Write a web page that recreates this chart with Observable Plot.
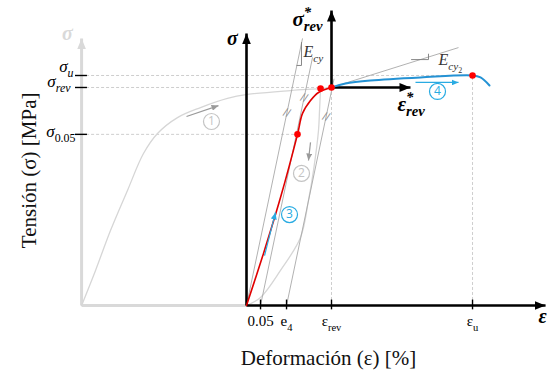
<!DOCTYPE html>
<html><head><meta charset="utf-8">
<script src="https://cdn.jsdelivr.net/npm/d3@7"></script>
<script src="https://cdn.jsdelivr.net/npm/@observablehq/plot@0.6"></script>
<style>body{margin:0;background:#fff} svg{display:block}</style>
</head><body><div id="chart"></div>
<script>
// Schematic units: strain with eps_rev = 1, stress with sigma_rev = 1
const eps005 = 0.165, eps4 = 0.471, epsRev = 1, epsU = 2.659;
const sig005 = 0.785, sigRev = 1, sigU = 1.055;
const epsGrey = -1.94;            // origin of the monotonic (grey) axes
const sigTopGrey = 1.225, sigTop = 1.248, epsEnd = 3.518;
const sigStarTop = 1.353, epsStarEnd = 1.929;

const xTicks = [
  {v: eps005, label: "0.05"}, {v: eps4, label: "e_{4}"},
  {v: epsRev, label: "ε_{rev}"}, {v: epsU, label: "ε_{u}"}
];
const yTicks = [
  {v: sigU, label: "σ_{u}", lx: -2.035, ly: 1.069},
  {v: sigRev, label: "σ_{rev}", lx: -2.071, ly: 1.0},
  {v: sig005, label: "σ_{0.05}", lx: -2.012, ly: 0.771}
];

// (1) monotonic curve
const curve1 = [[-1.94,0],[-1.776,0.161],[-1.6,0.344],[-1.4,0.528],[-1.212,0.697],[-1.047,0.789],
  [-0.812,0.862],[-0.541,0.908],[-0.224,0.950],[0.012,0.968],[0.518,0.986],[0.871,0.995],[1,1]];
// (2) unloading curve
const curve2 = [[0.871,0.995],[0.859,0.894],[0.847,0.803],[0.788,0.619],[0.729,0.482],
  [0.635,0.312],[0.4,0.161],[0.165,0.037],[0,0]];
// (3) reloading curve (red)
const curve3 = [[0,0],[0.2,0.239],[0.4,0.495],[0.6,0.785],[0.659,0.881],[0.753,0.940],[0.847,0.977],[1,1]];
// (4) post-reversal curve (blue)
const curve4 = [[1,1],[1.165,1.018],[1.459,1.032],[2.047,1.046],[2.659,1.055],[2.753,1.046],[2.859,1.009]];

const keyPoints = [[0.6,0.785],[0.871,0.995],[1,1],[2.659,1.055]];

// E_cy parallel lines and E_cy2 line
const ecyLines = [
  {x1: 0, y1: 0, x2: 0.659, y2: 1.225},
  {x1: eps005, y1: 0, x2: 0.777, y2: 1.138},
  {x1: eps4, y1: 0, x2: 1.030, y2: 1.04},
  {x1: 1, y1: 1, x2: 2.494, y2: 1.183}
];
const slopeTri = [
  {g: "a", x: 0.593, y: 1.101}, {g: "a", x: 0.647, y: 1.101}, {g: "a", x: 0.647, y: 1.206},
  {g: "b", x: 1.941, y: 1.128}, {g: "b", x: 2.141, y: 1.128}, {g: "b", x: 2.141, y: 1.153}
];
const breakMarks = [[0.476,0.885],[0.679,0.954],[0.938,0.867]];

const dashH = [{y: sigU, x2: epsU}, {y: sigRev, x2: epsRev}, {y: sig005, x2: 0.6}];
const dashV = [{x: epsRev, y2: sigRev}, {x: epsU, y2: sigU}];

const axesBlack = [
  {x1: 0, y1: 0, x2: 0, y2: sigTop}, {x1: 0, y1: 0, x2: epsEnd, y2: 0},
  {x1: epsRev, y1: sigRev, x2: epsRev, y2: sigStarTop}, {x1: epsRev, y1: sigRev, x2: epsStarEnd, y2: sigRev}
];
const axesGrey = [{x1: epsGrey, y1: 0, x2: epsGrey, y2: sigTopGrey}];
const greyBase = [{x1: epsGrey, y1: 0, x2: 0, y2: 0}];

const arrowsGrey = [{x1: -0.706, y1: 0.867, x2: -0.329, y2: 0.917}, {x1: 0.753, y1: 0.748, x2: 0.729, y2: 0.665}];
const arrowsBlue = [{x1: 0.212, y1: 0.229, x2: 0.341, y2: 0.427}, {x1: 1.988, y1: 1.023, x2: 2.494, y2: 1.023}];
const stages = [
  {n: "1", x: -0.412, y: 0.844, c: "#c4c4c4"}, {n: "2", x: 0.647, y: 0.606, c: "#c4c4c4"},
  {n: "3", x: 0.506, y: 0.417, c: "#29abe2"}, {n: "4", x: 2.247, y: 0.982, c: "#29abe2"}
];
const axisLabels = [
  {t: "σ", x: -2.106, y: 1.216, c: "#d9d9d9"},
  {t: "σ", x: -0.165, y: 1.193, c: "#000"},
  {t: "ε", x: 3.482, y: -0.078, c: "#000"}
];
const starLabels = [{t: "σ^{*}_{rev}", x: 0.541, y: 1.284}, {t: "ε^{*}_{rev}", x: 1.776, y: 0.894}];
const slopeLabels = [{t: "E_{cy}", x: 0.671, y: 1.138}, {t: "E_{cy}_{2}", x: 2.259, y: 1.101}];

const chart = Plot.plot({
  width: 547, height: 374, margin: 0,
  x: {type: "linear", domain: [-2.894, 3.541], axis: null},
  y: {type: "linear", domain: [-0.3165, 1.399], axis: null},
  style: {background: "white", fontFamily: "Liberation Serif"},
  marks: [
    Plot.ruleY(dashH, {y: "y", x1: epsGrey, x2: "x2", stroke: "#c8c8c8", strokeWidth: 0.9, strokeDasharray: "3,2"}),
    Plot.ruleX(dashV, {x: "x", y1: 0, y2: "y2", stroke: "#c8c8c8", strokeWidth: 0.9, strokeDasharray: "3,2"}),
    Plot.link(greyBase, {x1: "x1", y1: "y1", x2: "x2", y2: "y2", stroke: "#d9d9d9", strokeWidth: 3}),
    Plot.link(axesGrey, {x1: "x1", y1: "y1", x2: "x2", y2: "y2", stroke: "#d9d9d9", strokeWidth: 3, ariaDescription: "arrows-grey"}),
    Plot.line(curve1, {curve: "catmull-rom", stroke: "#d6d6d6", strokeWidth: 1.3}),
    Plot.line(curve2, {curve: "catmull-rom", stroke: "#d6d6d6", strokeWidth: 1.3}),
    Plot.link(ecyLines, {x1: "x1", y1: "y1", x2: "x2", y2: "y2", stroke: "#a8a8a8", strokeWidth: 0.9}),
    Plot.line(slopeTri, {x: "x", y: "y", z: "g", stroke: "#7a7a7a", strokeWidth: 0.9}),
    Plot.text(breakMarks, {text: () => "//", fontSize: 10, rotate: 18, fill: "#8a8a8a", fontFamily: "DejaVu Sans"}),
    Plot.ruleX(xTicks, {x: "v", y1: -0.02, y2: 0.025, stroke: "#000", strokeWidth: 1.4}),
    Plot.ruleY(yTicks, {y: "v", x1: -2.012, x2: -1.871, stroke: "#000", strokeWidth: 1.4}),
    Plot.link(axesBlack, {x1: "x1", y1: "y1", x2: "x2", y2: "y2", stroke: "#000", strokeWidth: 2.6, ariaDescription: "arrows-black"}),
    Plot.line(curve3, {curve: "catmull-rom", stroke: "#e00000", strokeWidth: 1.6}),
    Plot.line(curve4, {curve: "catmull-rom", stroke: "#2492d4", strokeWidth: 2}),
    Plot.dot(keyPoints, {r: 3.3, fill: "#ff0000", stroke: "none"}),
    Plot.link(arrowsGrey, {x1: "x1", y1: "y1", x2: "x2", y2: "y2", stroke: "#9a9a9a", strokeWidth: 1.2, ariaDescription: "arrows-dgrey"}),
    Plot.link(arrowsBlue, {x1: "x1", y1: "y1", x2: "x2", y2: "y2", stroke: "#29abe2", strokeWidth: 1.2, ariaDescription: "arrows-blue"}),
    Plot.dot(stages, {x: "x", y: "y", r: 8, fill: "white", stroke: "c", strokeWidth: 1.2}),
    Plot.text(stages, {x: "x", y: "y", text: "n", fill: "c", fontSize: 12, fontFamily: "Open Sans"}),
    Plot.text(xTicks, {x: "v", y: -0.096, text: "label", lineAnchor: "bottom", fontSize: 15, fontStyle: d => d.label === "0.05" ? "normal" : "italic", fill: "#000"}),
    Plot.text(yTicks, {x: "lx", y: "ly", text: "label", lineAnchor: "bottom", textAnchor: "end", fontSize: 17, fontStyle: "italic", fill: "#000"}),
    Plot.text(axisLabels, {x: "x", y: "y", text: "t", fill: "c", lineAnchor: "bottom", fontSize: 20, fontWeight: "bold", fontStyle: "italic"}),
    Plot.text(starLabels, {x: "x", y: "y", text: "t", lineAnchor: "bottom", textAnchor: "start", fontSize: 21, fontWeight: "bold", fontStyle: "italic", fill: "#000"}),
    Plot.text(slopeLabels, {x: "x", y: "y", text: "t", lineAnchor: "bottom", textAnchor: "start", fontSize: 16, fontStyle: "italic", fill: "#333"}),
    Plot.text(["Tensión (σ) [MPa]"], {x: -2.553, y: 0.62, text: d => d, rotate: -90, fontSize: 21, fill: "#111"}),
    Plot.text(["Deformación (ε) [%]"], {x: 0.965, y: -0.271, text: d => d, lineAnchor: "bottom", fontSize: 21, fill: "#111"})
  ]
});
document.getElementById("chart").appendChild(chart);

// filled arrow heads
const ns = "http://www.w3.org/2000/svg";
const defs = document.createElementNS(ns, "defs");
const heads = {black: ["#000", 11, 9], grey: ["#d9d9d9", 11, 9], dgrey: ["#9a9a9a", 7, 6], blue: ["#29abe2", 7, 6]};
for (const [k, [c, l, w]] of Object.entries(heads)) {
  const m = document.createElementNS(ns, "marker");
  m.setAttribute("id", "head-" + k);
  m.setAttribute("viewBox", "0 0 10 10");
  m.setAttribute("refX", 10); m.setAttribute("refY", 5);
  m.setAttribute("markerWidth", l); m.setAttribute("markerHeight", w);
  m.setAttribute("markerUnits", "userSpaceOnUse");
  m.setAttribute("orient", "auto");
  m.setAttribute("preserveAspectRatio", "none");
  const p = document.createElementNS(ns, "path");
  p.setAttribute("d", "M0,0L10,5L0,10Z"); p.setAttribute("fill", c); p.setAttribute("stroke", "none");
  m.appendChild(p); defs.appendChild(m);
}
chart.insertBefore(defs, chart.firstChild);
for (const k of Object.keys(heads)) {
  chart.querySelectorAll(`g[aria-description="arrows-${k}"] path, g[aria-description="arrows-${k}"] line`)
    .forEach(p => p.setAttribute("marker-end", `url(#head-${k})`));
}

// sub/superscripts
function richify(t) {
  const s = t.textContent;
  if (!/[_^]\{/.test(s)) return;
  const fs = parseFloat(getComputedStyle(t).fontSize) || 14;
  t.textContent = "";
  const re = /([_^])\{([^}]*)\}|([^_^]+)/g;
  let m, shift = 0, prev = null, level = 0;
  while ((m = re.exec(s))) {
    const ts = document.createElementNS(ns, "tspan");
    let target, size, dx = 0;
    if (m[3] !== undefined) { ts.textContent = m[3]; target = 0; size = fs; prev = null; level = 0; }
    else if (m[1] === "^") { ts.textContent = m[2]; target = -0.42 * fs; size = 0.7 * fs; prev = "^"; }
    else {
      level = prev === "_" ? level + 1 : 1;
      size = level === 1 ? 0.7 * fs : 0.5 * fs;
      target = level === 1 ? 0.28 * fs : 0.45 * fs;
      if (prev === "^") dx = -0.5 * size;
      ts.textContent = m[2];
      prev = "_";
    }
    ts.setAttribute("font-size", size);
    ts.setAttribute("dy", target - shift);
    if (dx) ts.setAttribute("dx", dx);
    if (/^[\d.]+$/.test(ts.textContent)) ts.setAttribute("font-style", "normal");
    shift = target;
    t.appendChild(ts);
  }
}
chart.querySelectorAll("text").forEach(richify);
</script>
</body></html>
